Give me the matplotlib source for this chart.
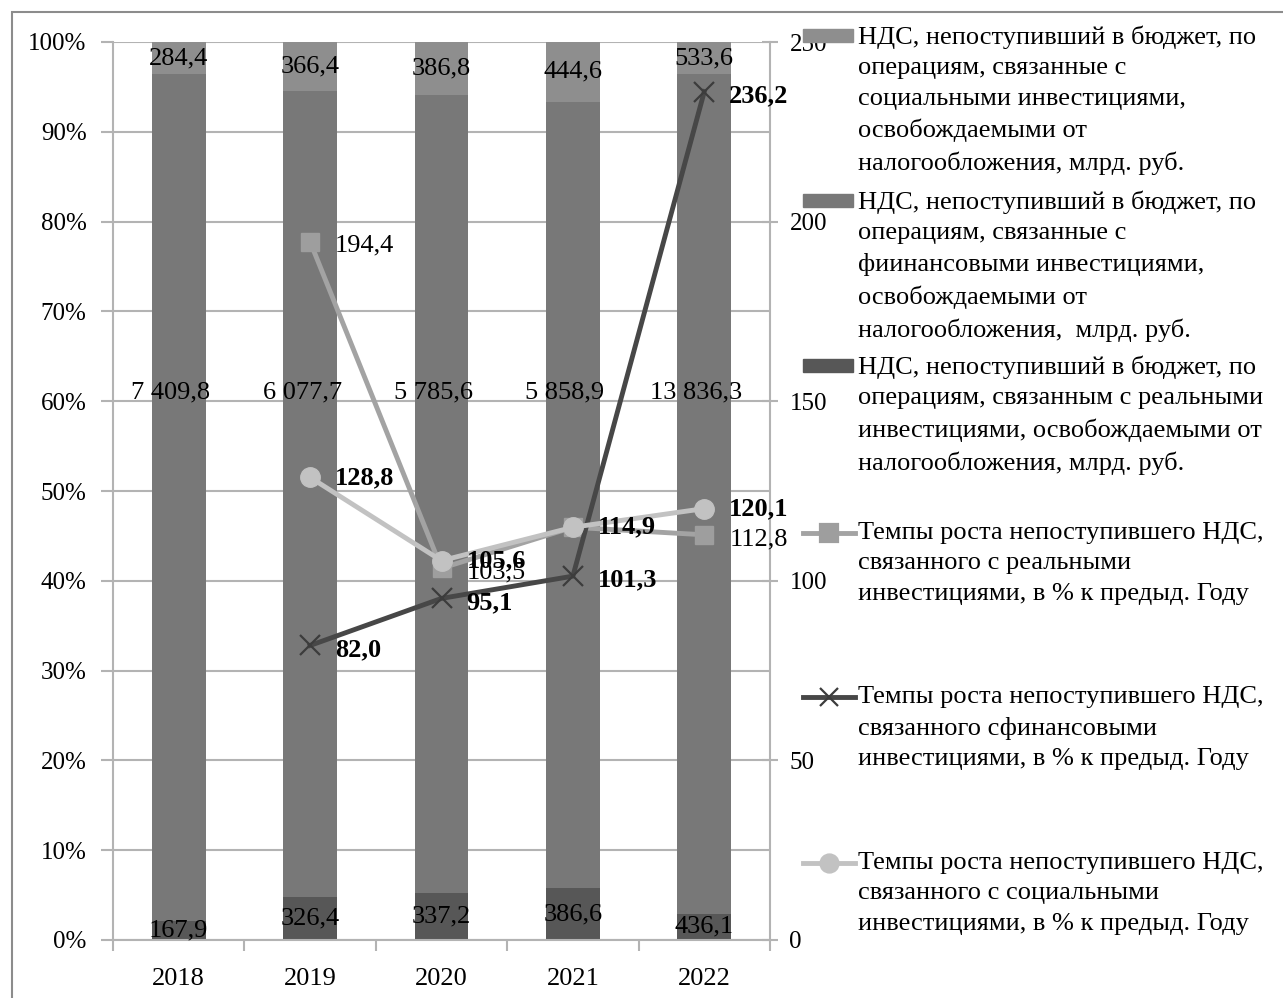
import matplotlib
matplotlib.use("agg")
import matplotlib.pyplot as plt
import numpy as np
from matplotlib.patches import Rectangle
from matplotlib.lines import Line2D

plt.rcParams["font.family"] = ["Liberation Serif", "DejaVu Serif"]

years = ["2018", "2019", "2020", "2021", "2022"]

# НДС, млрд. руб.
vat_real = [167.9, 326.4, 337.2, 386.6, 436.1]
vat_fin = [7409.8, 6077.7, 5785.6, 5858.9, 13836.3]
vat_soc = [284.4, 366.4, 386.8, 444.6, 533.6]

# темпы роста, % к предыдущему году (2019-2022)
line_years = [1, 2, 3, 4]
growth_real = [194.4, 103.5, 114.9, 112.8]
growth_fin = [82.0, 95.1, 101.3, 236.2]
growth_soc = [128.8, 105.6, 114.9, 120.1]

legend_labels = [
    "НДС, непоступивший в бюджет, по\nоперациям, связанные с\nсоциальными инвестициями,\n"
    "освобождаемыми от\nналогообложения, млрд. руб.",
    "НДС, непоступивший в бюджет, по\nоперациям, связанные с\nфиинансовыми инвестициями,\n"
    "освобождаемыми от\nналогообложения,  млрд. руб.",
    "НДС, непоступивший в бюджет, по\nоперациям, связанным с реальными\n"
    "инвестициями, освобождаемыми от\nналогообложения, млрд. руб.",
    "Темпы роста непоступившего НДС,\nсвязанного с реальными\nинвестициями, в % к предыд. Году",
    "Темпы роста непоступившего НДС,\nсвязанного сфинансовыми\nинвестициями, в % к предыд. Году",
    "Темпы роста непоступившего НДС,\nсвязанного с социальными\nинвестициями, в % к предыд. Году",
]

C_REAL = "#575757"
C_FIN = "#787878"
C_SOC = "#8e8e8e"
L_REAL = "#a3a3a3"
L_FIN = "#474747"
L_SOC = "#c2c2c2"
GRID = "#b3b3b3"
FS = 19


def fmt(v):
    s = f"{v:,.1f}".replace(",", " ").replace(".", ",")
    return s


W, H = 1283, 998
fig = plt.figure(figsize=(W / 100, H / 100), dpi=100)
ax = fig.add_axes([113 / W, 1 - 940 / H, (770 - 113) / W, (940 - 42) / H])

x = np.arange(len(years))
real = np.array(vat_real)
fin = np.array(vat_fin)
soc = np.array(vat_soc)
tot = real + fin + soc
p_real = real / tot
p_fin = fin / tot
p_soc = soc / tot

bw = 0.41
ax.bar(x, p_real, bw, color=C_REAL, zorder=2)
ax.bar(x, p_fin, bw, bottom=p_real, color=C_FIN, zorder=2)
ax.bar(x, p_soc, bw, bottom=p_real + p_fin, color=C_SOC, zorder=2)

for i in range(len(years)):
    ax.text(x[i], p_real[i] / 2, fmt(real[i]), ha="center", va="center",
            fontsize=FS, zorder=3)
    ax.text(x[i] - 0.06, 0.61, fmt(fin[i]), ha="center", va="center",
            fontsize=FS, zorder=3)
    ax.text(x[i], 1 - p_soc[i] / 2, fmt(soc[i]), ha="center", va="center",
            fontsize=FS, zorder=3)

ax.set_xlim(-0.5, len(years) - 0.5)
ax.set_ylim(0, 1)
ax.set_yticks(np.arange(0, 1.01, 0.1))
ax.set_yticklabels([f"{int(round(v * 100))}%" for v in np.arange(0, 1.01, 0.1)])
ax.yaxis.grid(True, color=GRID, linewidth=1.5, zorder=0)
ax.set_axisbelow(True)
ax.set_xticks(x)
ax.set_xticklabels(years)
ax.set_xticks(np.arange(-0.5, len(years), 1), minor=True)
ax.tick_params(axis="x", which="major", length=0, pad=20, labelsize=FS)
ax.tick_params(axis="x", which="minor", length=8, width=1.5, color=GRID,
               direction="out")
ax.tick_params(axis="y", length=9, width=1.5, color=GRID, pad=10,
               labelsize=18)
for side in ["top", "right"]:
    ax.spines[side].set_visible(False)
for side in ["left", "bottom"]:
    ax.spines[side].set_color(GRID)
    ax.spines[side].set_linewidth(1.5)

ax2 = ax.twinx()
ax2.set_ylim(0, 250)
ax2.set_yticks(range(0, 251, 50))
ax2.tick_params(axis="y", length=12, width=1.5, color=GRID, direction="inout",
                pad=8, labelsize=18)
for side in ["top", "left", "bottom"]:
    ax2.spines[side].set_visible(False)
ax2.spines["right"].set_color(GRID)
ax2.spines["right"].set_linewidth(1.5)

ax2.plot(line_years, growth_real, color=L_REAL, lw=3.5, marker="s", ms=13,
         mfc="#9e9e9e", mec="#9e9e9e", zorder=4)
ax2.plot(line_years, growth_fin, color=L_FIN, lw=3.5, marker="x", ms=14,
         mew=1.6, mec="#3c3c3c", zorder=5)
ax2.plot(line_years, growth_soc, color=L_SOC, lw=3.5, marker="o", ms=14,
         mfc=L_SOC, mec=L_SOC, zorder=6)

for i, v in enumerate(growth_real):
    if i == 2:
        continue
    ax2.annotate(fmt(v), (line_years[i], v), xytext=(18, -3),
                 textcoords="offset points", ha="left", va="center",
                 fontsize=FS, zorder=7)
for i, v in enumerate(growth_fin):
    ax2.annotate(fmt(v), (line_years[i], v), xytext=(18, -3),
                 textcoords="offset points", ha="left", va="center",
                 fontsize=FS, fontweight="bold", zorder=7)
for i, v in enumerate(growth_soc):
    ax2.annotate(fmt(v), (line_years[i], v), xytext=(18, 0),
                 textcoords="offset points", ha="left", va="center",
                 fontsize=FS, fontweight="bold", zorder=7)

# legend drawn by hand so the marker sits on the first text line
entries = [
    ("patch", C_SOC, None, 36),
    ("patch", C_FIN, None, 201),
    ("patch", C_REAL, None, 366),
    ("line", L_REAL, "s", 533),
    ("line", L_FIN, "x", 697),
    ("line", L_SOC, "o", 863),
]
for (kind, col, mk, yp), lab in zip(entries, legend_labels):
    yf = 1 - yp / H
    if kind == "patch":
        fig.add_artist(Rectangle((803 / W, yf - 6 / H), 50 / W, 13 / H,
                                 transform=fig.transFigure, color=col,
                                 zorder=10))
    else:
        mc = "#9e9e9e" if mk == "s" else ("#3c3c3c" if mk == "x" else col)
        fig.add_artist(Line2D([803 / W, 855 / W], [yf, yf],
                              transform=fig.transFigure, color=col, lw=3.5,
                              zorder=10))
        fig.add_artist(Line2D([829 / W], [yf], transform=fig.transFigure,
                              marker=mk, ms=13, mfc=mc, mec=mc, mew=1.6,
                              lw=0, zorder=11))
    fig.text(858 / W, yf + 11 / H, lab, ha="left", va="top", fontsize=FS,
             linespacing=1.5, zorder=10)

# outer frame of the chart area
fig.add_artist(Rectangle((12 / W, -0.05), 1.1, 1 - 12 / H + 0.05,
                         transform=fig.transFigure, fill=False,
                         edgecolor="#8c8c8c", lw=1.5, zorder=0))

fig.savefig("out.png", dpi=100)
